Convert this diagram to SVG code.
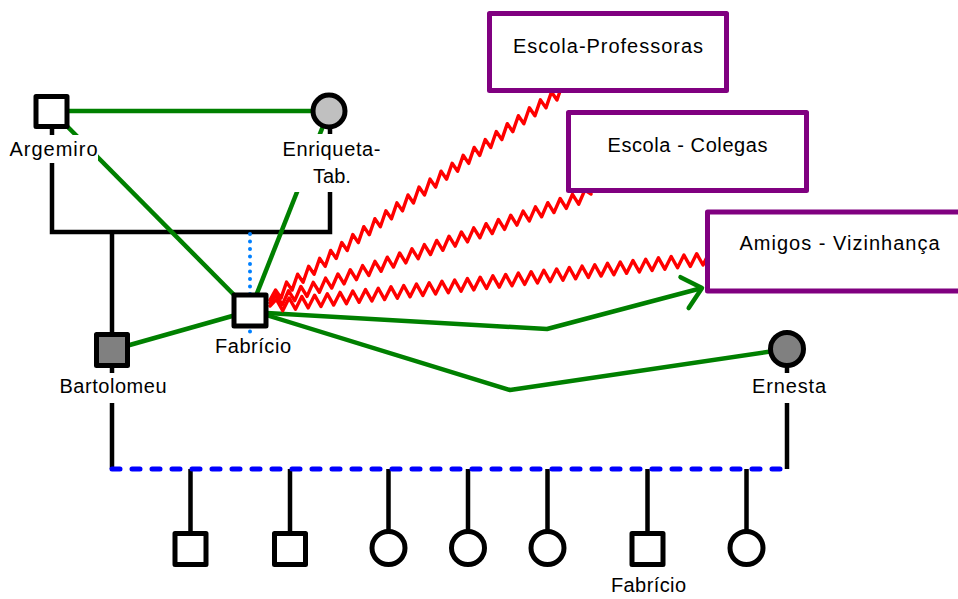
<svg xmlns="http://www.w3.org/2000/svg" width="958" height="599" viewBox="0 0 958 599">
<style>
text{font-family:"Liberation Sans",Arial,sans-serif;font-size:20px;fill:#000;text-anchor:middle}
.blk{fill:none;stroke:#000;stroke-width:4.5}
.grn{fill:none;stroke:#008000;stroke-width:4.5;stroke-linejoin:round}
.zig{fill:none;stroke:#FF0000;stroke-width:3.4;stroke-linejoin:round;stroke-linecap:round}
.pm{fill:#fff;stroke:#000;stroke-width:5;stroke-linejoin:round}
.box{fill:#fff;stroke:#800080;stroke-width:5;stroke-linejoin:round}
.bg{fill:#fff}
</style>
<defs>
<marker id="arr" markerUnits="userSpaceOnUse" viewBox="-25 -22 30 44" refX="0" refY="0" markerWidth="30" markerHeight="44" orient="auto">
<path d="M-18,-16 L0,0 L-18,16" fill="none" stroke="#008000" stroke-width="4.5" stroke-linecap="round" stroke-linejoin="round"/>
</marker>
</defs>
<g id="connectors">
<path class="blk" d="M52,128 V232 H330 V128"/>
<path class="blk" d="M112,232 V469"/>
<path class="blk" d="M787,349 V469"/>
<path class="blk" d="M190.5,469 V531 M290,469 V531 M388.5,469 V531 M468,469 V531 M547.5,469 V531 M647.5,469 V531 M746.5,469 V531"/>
<path d="M112,469 H787" fill="none" stroke="#0000FF" stroke-width="5" stroke-dasharray="8 12" stroke-linecap="round"/>
<path d="M250,234 V333" fill="none" stroke="#0080FF" stroke-width="4" stroke-dasharray="0 7.5" stroke-linecap="round"/>
<path class="grn" d="M52,111 H329"/>
<path class="grn" d="M52,111 L250,311"/>
<path class="grn" d="M329,111 L250,311"/>
<path class="grn" d="M112,350 L250,311"/>
<path class="grn" d="M250,312 L547,329 L702,288" marker-end="url(#arr)"/>
<path class="grn" d="M250,310 L510,390 L787,349"/>
<path class="zig" d="M270,300 l5.519,-9.962 5.519,8.038 5.519,-15.962 5.519,8.038 5.519,-15.962 5.519,8.038 5.519,-15.962 5.519,8.038 5.519,-15.962 5.519,8.038 5.519,-15.962 5.519,8.038 5.519,-15.962 5.519,8.038 5.519,-15.962 5.519,8.038 5.519,-15.962 5.519,8.038 5.519,-15.962 5.519,8.038 5.519,-15.962 5.519,8.038 5.519,-15.962 5.519,8.038 5.519,-15.962 5.519,8.038 5.519,-15.962 5.519,8.038 5.519,-15.962 5.519,8.038 5.519,-15.962 5.519,8.038 5.519,-15.962 5.519,8.038 5.519,-15.962 5.519,8.038 5.519,-15.962 5.519,8.038 5.519,-15.962 5.519,8.038 5.519,-15.962 5.519,8.038 5.519,-15.962 5.519,8.038 5.519,-15.962 5.519,8.038 5.519,-15.962 5.519,8.038 5.519,-15.962 5.519,8.038 5.519,-15.962 5.519,8.038 5.519,-15.962 5.519,2.038"/>
<path class="zig" d="M270,303 l6.173,-8.096 6.173,9.904 6.173,-14.096 6.173,9.904 6.173,-14.096 6.173,9.904 6.173,-14.096 6.173,9.904 6.173,-14.096 6.173,9.904 6.173,-14.096 6.173,9.904 6.173,-14.096 6.173,9.904 6.173,-14.096 6.173,9.904 6.173,-14.096 6.173,9.904 6.173,-14.096 6.173,9.904 6.173,-14.096 6.173,9.904 6.173,-14.096 6.173,9.904 6.173,-14.096 6.173,9.904 6.173,-14.096 6.173,9.904 6.173,-14.096 6.173,9.904 6.173,-14.096 6.173,9.904 6.173,-14.096 6.173,9.904 6.173,-14.096 6.173,9.904 6.173,-14.096 6.173,9.904 6.173,-14.096 6.173,9.904 6.173,-14.096 6.173,9.904 6.173,-14.096 6.173,9.904 6.173,-14.096 6.173,9.904 6.173,-14.096 6.173,9.904 6.173,-14.096 6.173,9.904 6.173,-14.096 6.173,3.904"/>
<path class="zig" d="M270,306 l6.368,-6.691 6.368,11.309 6.368,-12.691 6.368,11.309 6.368,-12.691 6.368,11.309 6.368,-12.691 6.368,11.309 6.368,-12.691 6.368,11.309 6.368,-12.691 6.368,11.309 6.368,-12.691 6.368,11.309 6.368,-12.691 6.368,11.309 6.368,-12.691 6.368,11.309 6.368,-12.691 6.368,11.309 6.368,-12.691 6.368,11.309 6.368,-12.691 6.368,11.309 6.368,-12.691 6.368,11.309 6.368,-12.691 6.368,11.309 6.368,-12.691 6.368,11.309 6.368,-12.691 6.368,11.309 6.368,-12.691 6.368,11.309 6.368,-12.691 6.368,11.309 6.368,-12.691 6.368,11.309 6.368,-12.691 6.368,11.309 6.368,-12.691 6.368,11.309 6.368,-12.691 6.368,11.309 6.368,-12.691 6.368,11.309 6.368,-12.691 6.368,11.309 6.368,-12.691 6.368,11.309 6.368,-12.691 6.368,11.309 6.368,-12.691 6.368,11.309 6.368,-12.691 6.368,11.309 6.368,-12.691 6.368,11.309 6.368,-12.691 6.368,11.309 6.368,-12.691 6.368,11.309 6.368,-12.691 6.368,11.309 6.368,-12.691 6.368,11.309 6.368,-12.691 6.368,11.309 6.368,-12.691 6.368,5.309"/>
</g>
<g id="argemiro">
<rect class="pm" x="36" y="96.5" width="31" height="30"/>
<rect class="bg" x="8" y="135" width="90" height="28"/>
<text x="53.5" y="156" textLength="88" lengthAdjust="spacing">Argemiro</text>
</g>
<g id="enriqueta">
<circle class="pm" cx="329" cy="111" r="16" style="fill:#C0C0C0"/>
<rect class="bg" x="281" y="134" width="101" height="58"/>
<text x="331.5" y="156" textLength="98" lengthAdjust="spacing">Enriqueta-</text>
<text x="332" y="183">Tab.</text>
</g>
<g id="fabricio">
<rect class="pm" x="234" y="295" width="32" height="31"/>
<rect class="bg" x="213" y="334" width="79" height="26"/>
<text x="253" y="353" textLength="76" lengthAdjust="spacing">Fabrício</text>
</g>
<g id="bartolomeu">
<rect class="pm" x="96.5" y="334.5" width="31" height="31" style="fill:#808080"/>
<rect class="bg" x="58" y="373" width="111" height="30"/>
<text x="113" y="393" textLength="107" lengthAdjust="spacing">Bartolomeu</text>
</g>
<g id="ernesta">
<circle class="pm" cx="787" cy="349" r="16.5" style="fill:#808080"/>
<rect class="bg" x="754" y="373" width="77" height="30"/>
<text x="789" y="393" textLength="74" lengthAdjust="spacing">Ernesta</text>
</g>
<g id="child1"><rect class="pm" x="175" y="533.5" width="31" height="31"/></g>
<g id="child2"><rect class="pm" x="274.5" y="533.5" width="31" height="31"/></g>
<g id="child3"><circle class="pm" cx="388.5" cy="548" r="16.5"/></g>
<g id="child4"><circle class="pm" cx="468" cy="548" r="16.5"/></g>
<g id="child5"><circle class="pm" cx="547.5" cy="548" r="16.5"/></g>
<g id="child6"><rect class="pm" x="632" y="533.5" width="31" height="31"/>
<text x="648.5" y="592" textLength="75" lengthAdjust="spacing">Fabrício</text></g>
<g id="child7"><circle class="pm" cx="746.5" cy="548" r="16.5"/></g>
<g id="escola-professoras">
<rect class="box" x="489.5" y="13.5" width="237" height="77"/>
<text x="608" y="53" textLength="190" lengthAdjust="spacing">Escola-Professoras</text>
</g>
<g id="escola-colegas">
<rect class="box" x="568.5" y="112.5" width="238" height="78"/>
<text x="687.5" y="152" textLength="160" lengthAdjust="spacing">Escola - Colegas</text>
</g>
<g id="amigos-vizinhanca">
<rect class="box" x="707.5" y="212" width="270" height="79"/>
<text x="839.5" y="250" textLength="200" lengthAdjust="spacing">Amigos - Vizinhança</text>
</g>
</svg>
